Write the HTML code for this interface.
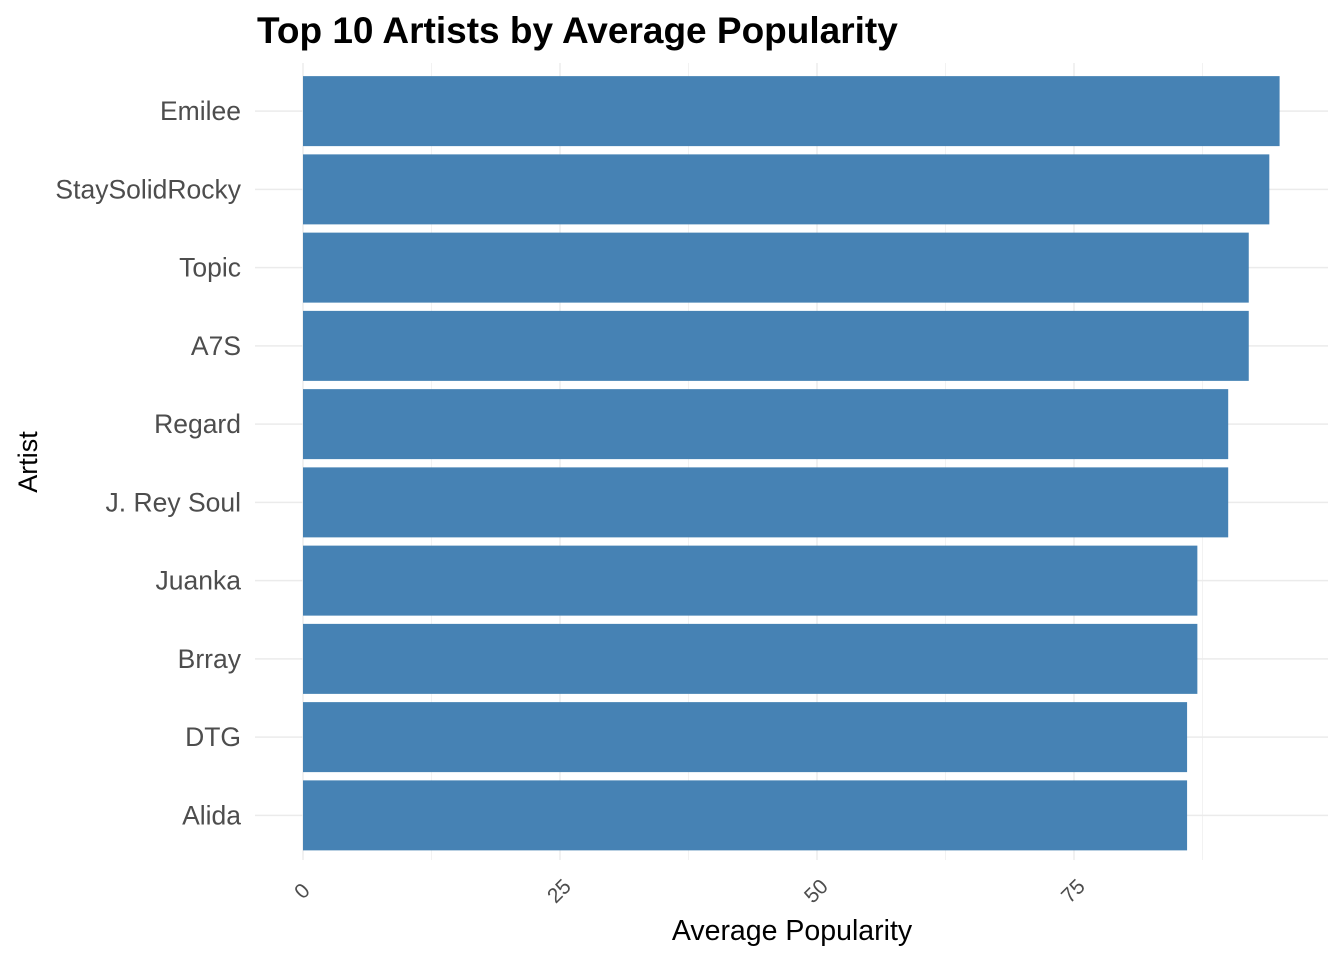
<!DOCTYPE html>
<html><head><meta charset="utf-8"><style>
body{margin:0;background:#fff;}
svg{display:block;font-family:"Liberation Sans",Arial,sans-serif;}
</style></head><body>
<svg id="chart" width="1344" height="960"></svg>
<script>
const artists=["Emilee","StaySolidRocky","Topic","A7S","Regard","J. Rey Soul","Juanka","Brray","DTG","Alida"];
const popularity=[95,94,92,92,90,90,87,87,86,86];
const xTicks=[0,25,50,75];
const xMinor=[12.5,37.5,62.5,87.5];
const NS="http://www.w3.org/2000/svg";
const svg=document.getElementById('chart');
const x0=303,pxPer=10.28,yTop=73,step=78.25,barH=70;
const xs=v=>x0+v*pxPer;
const yc=i=>yTop+step*i+step/2-1;
function el(t,a,p){const e=document.createElementNS(NS,t);for(const k in a)e.setAttribute(k,a[k]);(p||svg).appendChild(e);return e;}
const g=el('g',{});


xMinor.forEach(v=>el('line',{x1:xs(v),x2:xs(v),y1:63,y2:860,stroke:'#f2f2f2','stroke-width':1},g));
xTicks.forEach(v=>el('line',{x1:xs(v),x2:xs(v),y1:63,y2:860,stroke:'#ebebeb','stroke-width':1.4},g));
artists.forEach((a,i)=>el('line',{x1:255,x2:1328,y1:yc(i),y2:yc(i),stroke:'#ebebeb','stroke-width':1.4},g));
artists.forEach((a,i)=>{
 const r=el('rect',{x:x0,y:yc(i)-barH/2,width:xs(popularity[i])-x0,height:barH,fill:'#4682b4'});
 
 
 const t=el('text',{x:241,y:yc(i)+9,'text-anchor':'end','font-size':26.5,fill:'#4d4d4d'});
 t.textContent=a;
 
 
});
xTicks.forEach(v=>{
 const t=el('text',{x:0,y:0,'text-anchor':'middle','font-size':21,fill:'#4d4d4d',transform:`translate(${xs(v)+4},${896}) rotate(-45)`});
 t.textContent=v;
 
 
});
const title=el('text',{x:257,y:43,'font-size':37,'font-weight':'bold',fill:'#000'});
title.textContent='Top 10 Artists by Average Popularity';


const xt=el('text',{x:792,y:940,'text-anchor':'middle','font-size':28.5,fill:'#000'});
xt.textContent='Average Popularity';


const yt=el('text',{x:0,y:0,'text-anchor':'middle','font-size':27,fill:'#000',transform:'translate(37,462) rotate(-90)'});
yt.textContent='Artist';


</script>
</body></html>
